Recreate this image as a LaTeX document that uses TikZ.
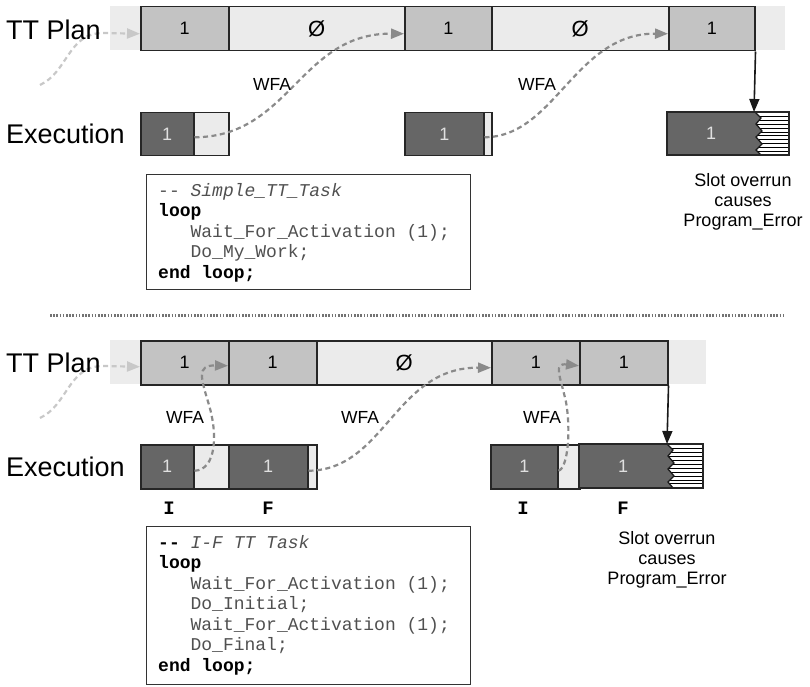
\documentclass[tikz,border=0pt]{standalone}
\usepackage{fontspec}
\setmainfont{Liberation Sans}
\setmonofont{Liberation Mono}
\usetikzlibrary{arrows.meta}

\definecolor{bandgray}{HTML}{ECECEC}
\definecolor{slotgray}{HTML}{C3C3C3}
\definecolor{idlegray}{HTML}{EBEBEB}
\definecolor{rungray}{HTML}{666666}
\definecolor{wfagray}{HTML}{8A8A8A}
\definecolor{leadgray}{HTML}{C8C8C8}
\definecolor{codegray}{HTML}{505050}

\tikzset{
  slot/.style={draw=black!85, line width=1.5pt, fill=slotgray, inner sep=0pt,
    anchor=north west, font=\fontsize{18}{20}\selectfont},
  idle/.style={slot, fill=idlegray},
  empty/.style={idle, font=\fontsize{22}{24}\selectfont},
  run/.style={slot, fill=rungray, text=white!88!black},
  rowlabel/.style={anchor=west, inner sep=0pt, font=\fontsize{27}{30}\selectfont},
  wfa/.style={draw=wfagray, line width=2.2pt, dash pattern=on 5pt off 3.5pt,
    -{Triangle[length=13pt,width=10pt]}},
  lead/.style={wfa, draw=leadgray},
  wfalabel/.style={inner sep=0pt, font=\fontsize{17.5}{20}\selectfont},
  codebox/.style={draw=black!80, line width=1pt, anchor=north west, inner sep=0pt},
  codeline/.style={anchor=base west, inner sep=0pt, font=\fontsize{18}{21}\ttfamily, text=codegray},
  phase/.style={inner sep=0pt, font=\fontsize{19}{20}\ttfamily\bfseries},
  note/.style={align=center, inner sep=0pt, font=\fontsize{18}{20}\selectfont},
  overrun/.style={draw=black!90, line width=1.6pt, -{Triangle[length=13pt,width=10pt]}},
  sepline/.style={draw=black!55, line width=3pt, dash pattern=on 1.6pt off 1.6pt},
  hatch/.style={line width=0.8pt, black},
  zigline/.style={line width=1.3pt, black!90},
}

\begin{document}
\begin{tikzpicture}[x=1pt, y=-1pt]
\useasboundingbox (0,0) rectangle (810,687);

% ================= simple time-triggered task =================
\fill[bandgray] (110,6) rectangle (785,50);
\coordinate (lead1) at (40,85);

% plan slots
\node[slot, minimum width=88pt, minimum height=44pt] (p1) at (140,6) {1};
\node[empty, minimum width=176pt, minimum height=44pt] (p2) at (228,6) {Ø};
\node[slot, minimum width=87pt, minimum height=44pt] (p3) at (404,6) {1};
\node[empty, minimum width=177pt, minimum height=44pt] (p4) at (491,6) {Ø};
\node[slot, minimum width=86pt, minimum height=44pt] (p5) at (668,6) {1};

% execution
\node[run, minimum width=53pt, minimum height=43pt] (e1) at (140,112) {1};
\node[idle, minimum width=35pt, minimum height=43pt] (e2) at (193,112) {};
\node[run, minimum width=79pt, minimum height=43pt] (e3) at (404,112) {1};
\node[idle, minimum width=8pt, minimum height=43pt] (e4) at (483,112) {};

% overrunning job with torn edge
\begin{scope}[shift={(755,112)}]
  \fill[rungray] (-88,0) -- (0,0) -- (6,6) -- (1,12) -- (7,19) -- (1,25) -- (7,32) -- (1,38) -- (6,43) -- (-88,43) -- cycle;
  \begin{scope}
    \clip (0,0) -- (6,6) -- (1,12) -- (7,19) -- (1,25) -- (7,32) -- (1,38) -- (6,43) -- (34,43) -- (34,0) -- cycle;
    \fill[white] (0,0) rectangle (34,43);
    \foreach \k in {1,...,10} \draw[hatch] (0,{\k*3.9+0.5}) -- (34,{\k*3.9+0.5});
  \end{scope}
  \draw[zigline] (0,0) -- (6,6) -- (1,12) -- (7,19) -- (1,25) -- (7,32) -- (1,38) -- (6,43);
  \draw[draw=black!85, line width=1.5pt] (-88,0) rectangle (34,43);
  \node[inner sep=0pt, text=white!88!black, font=\fontsize{18}{20}\selectfont] (e5) at (-44,21.5) {1};
  \coordinate (hit1) at (-1,0);
\end{scope}

\draw[overrun] (p5.south east) -- (hit1);

% activations
\draw[lead] (lead1) .. controls (68,72) and (68,33) .. (103,33) -- ([yshift=-5pt]p1.west);
\draw[wfa] ([yshift=-3pt]e1.east) .. controls (290,137) and (300,33) .. ([yshift=-5pt]p3.west);
\draw[wfa] ([yshift=-3pt]e3.east) .. controls (555,137) and (575,33) .. ([yshift=-5pt]p5.west);

\node[rowlabel] (plan1) at (6,29.5) {TT Plan};
\node[rowlabel] (exec1) at (6,134) {Execution};
\node[wfalabel] (w1) at (272,84) {WFA};
\node[wfalabel] (w2) at (537,84) {WFA};
\node[note] (err1) at (743,202) {Slot overrun\\causes\\Program\_Error};

% code of the simple task
\node[codebox, minimum width=324pt, minimum height=115pt] (box1) at (146,174) {};
\node[codeline] (c1a) at (158,196) {{-}{-} \textit{Simple\_TT\_Task}};
\node[codeline, text=black] (c1b) at (158,216.5) {\textbf{loop}};
\node[codeline] (c1c) at (190.4,237) {Wait\_For\_Activation (1);};
\node[codeline] (c1d) at (190.4,257.5) {Do\_My\_Work;};
\node[codeline, text=black] (c1e) at (158,278) {\textbf{end loop;}};

% divider
\draw[sepline] (50,315) -- (785,315);

% ================= initial-final task =================
\fill[bandgray] (110,340) rectangle (706,384);
\coordinate (lead2) at (40,418);

\node[slot, minimum width=88pt, minimum height=44pt] (q1) at (140,340) {1};
\node[slot, minimum width=88pt, minimum height=44pt] (q2) at (228,340) {1};
\node[empty, minimum width=175pt, minimum height=44pt] (q3) at (316,340) {Ø};
\node[slot, minimum width=88pt, minimum height=44pt] (q4) at (491,340) {1};
\node[slot, minimum width=88pt, minimum height=44pt] (q5) at (579,340) {1};

\node[run, minimum width=53pt, minimum height=44pt] (f1) at (140,444) {1};
\node[idle, minimum width=35pt, minimum height=44pt] (f2) at (193,444) {};
\node[run, minimum width=79pt, minimum height=44pt] (f3) at (228,444) {1};
\node[idle, minimum width=9pt, minimum height=44pt] (f4) at (307,444) {};
\node[run, minimum width=67pt, minimum height=44pt] (f5) at (490,444) {1};
\node[idle, minimum width=22pt, minimum height=44pt] (f6) at (557,444) {};

\begin{scope}[shift={(667,444)}]
  \fill[rungray] (-88,0) -- (0,0) -- (6,6) -- (1,12) -- (7,19) -- (1,25) -- (7,32) -- (1,38) -- (6,44) -- (-88,44) -- cycle;
  \begin{scope}
    \clip (0,0) -- (6,6) -- (1,12) -- (7,19) -- (1,25) -- (7,32) -- (1,38) -- (6,44) -- (36,44) -- (36,0) -- cycle;
    \fill[white] (0,0) rectangle (36,44);
    \foreach \k in {1,...,10} \draw[hatch] (0,{\k*3.9+0.8}) -- (36,{\k*3.9+0.8});
  \end{scope}
  \draw[zigline] (0,0) -- (6,6) -- (1,12) -- (7,19) -- (1,25) -- (7,32) -- (1,38) -- (6,44);
  \draw[draw=black!85, line width=1.5pt] (-88,0) rectangle (36,44);
  \node[inner sep=0pt, text=white!88!black, font=\fontsize{18}{20}\selectfont] (f7) at (-44,22) {1};
  \coordinate (hit2) at (0,0);
\end{scope}

\draw[overrun] (q5.south east) -- (hit2);

\draw[lead] (lead2) .. controls (68,405) and (68,366) .. (103,366) -- ([yshift=-4pt]q1.west);
\draw[wfa] ([yshift=-4pt]f1.east) .. controls (216,470) and (218,435) .. (209,405)
  .. controls (201,378) and (196,365) .. ([yshift=-3pt]q2.west);
\draw[wfa] ([yshift=-4pt]f3.east) .. controls (385,470) and (395,367) .. ([yshift=-5pt]q4.west);
\draw[wfa] ([yshift=-4pt]f5.east) .. controls (568,468) and (571,430) .. (566,402)
  .. controls (560,375) and (553,363) .. ([yshift=-3pt]q5.west);

\node[rowlabel] (plan2) at (6,363) {TT Plan};
\node[rowlabel] (exec2) at (6,467) {Execution};
\node[wfalabel] (w3) at (185,417) {WFA};
\node[wfalabel] (w4) at (360,417) {WFA};
\node[wfalabel] (w5) at (542,417) {WFA};

\node[phase] (i1) at (169,508) {I};
\node[phase] (i2) at (268,508) {F};
\node[phase] (i3) at (523,508) {I};
\node[phase] (i4) at (623,508) {F};
\node[note] (err2) at (667,560) {Slot overrun\\causes\\Program\_Error};

% code of the initial-final task
\node[codebox, minimum width=324pt, minimum height=158pt] (box2) at (146,526) {};
\node[codeline, text=black] (c2a) at (158,548) {\textbf{{-}{-}} \textcolor{codegray}{\textit{I-F TT Task}}};
\node[codeline, text=black] (c2b) at (158,568.5) {\textbf{loop}};
\node[codeline] (c2c) at (190.4,589) {Wait\_For\_Activation (1);};
\node[codeline] (c2d) at (190.4,609.5) {Do\_Initial;};
\node[codeline] (c2e) at (190.4,630) {Wait\_For\_Activation (1);};
\node[codeline] (c2f) at (190.4,650.5) {Do\_Final;};
\node[codeline, text=black] (c2g) at (158,671) {\textbf{end loop;}};
\end{tikzpicture}
\end{document}
